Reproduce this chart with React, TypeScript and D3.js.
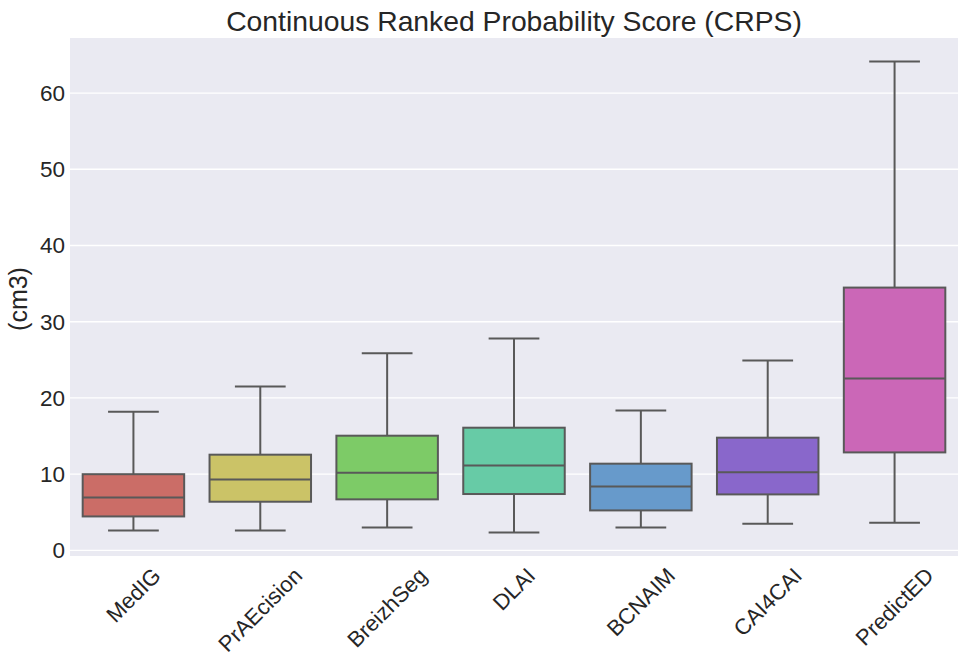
import React, { useEffect, useRef } from "react";
import * as d3 from "d3";

const categories = ["MedIG", "PrAEcision", "BreizhSeg", "DLAI", "BCNAIM", "CAI4CAI", "PredictED"];
const whiskerLow = [2.62, 2.62, 3.02, 2.36, 3.02, 3.5, 3.63];
const q1 = [4.46, 6.39, 6.7, 7.4, 5.25, 7.35, 12.86];
const median = [6.96, 9.32, 10.2, 11.15, 8.4, 10.24, 22.57];
const q3 = [10.0, 12.56, 15.05, 16.1, 11.38, 14.79, 34.48];
const whiskerHigh = [18.2, 21.5, 25.85, 27.8, 18.37, 24.93, 64.13];
const colors = ["#cb6d67", "#cbc367", "#7dcb67", "#67cba6", "#679acb", "#8967cb", "#cb67b7"];
const yTicks = [0, 10, 20, 30, 40, 50, 60];

const W = 969, H = 669;
const M = { left: 70, right: 958, top: 38, bottom: 556 };
const FONT = "'Liberation Sans', Arial, sans-serif";

export default function App() {
  const ref = useRef<SVGSVGElement>(null);
  useEffect(() => {
    const svg = d3.select(ref.current);
    svg.selectAll("*").remove();
    const x = d3.scaleBand().domain(categories).range([M.left, M.right]).paddingInner(0).paddingOuter(0);
    const y = d3.scaleLinear().domain([-0.73, 67.22]).range([M.bottom, M.top]);
    const bw = x.bandwidth() * 0.8;
    const line = "#595959";

    svg.append("rect").attr("x", M.left).attr("y", M.top).attr("width", M.right - M.left).attr("height", M.bottom - M.top).attr("fill", "#eaeaf2");
    svg.append("g").selectAll("line").data(yTicks).join("line")
      .attr("x1", M.left).attr("x2", M.right).attr("y1", (d) => y(d)).attr("y2", (d) => y(d))
      .attr("stroke", "white").attr("stroke-width", 1.3);

    svg.append("g").selectAll("text").data(yTicks).join("text")
      .attr("x", M.left - 5).attr("y", (d) => y(d)).attr("dy", "0.35em")
      .attr("text-anchor", "end").attr("font-family", FONT).attr("font-size", 22.5).attr("fill", "#262626")
      .text((d) => d);

    const g = svg.append("g");
    categories.forEach((c, i) => {
      const cx = x(c)! + x.bandwidth() / 2;
      const cap = bw / 2;
      g.append("line").attr("x1", cx).attr("x2", cx).attr("y1", y(whiskerLow[i])).attr("y2", y(q1[i])).attr("stroke", line).attr("stroke-width", 2);
      g.append("line").attr("x1", cx).attr("x2", cx).attr("y1", y(q3[i])).attr("y2", y(whiskerHigh[i])).attr("stroke", line).attr("stroke-width", 2);
      g.append("line").attr("x1", cx - cap / 2).attr("x2", cx + cap / 2).attr("y1", y(whiskerLow[i])).attr("y2", y(whiskerLow[i])).attr("stroke", line).attr("stroke-width", 2);
      g.append("line").attr("x1", cx - cap / 2).attr("x2", cx + cap / 2).attr("y1", y(whiskerHigh[i])).attr("y2", y(whiskerHigh[i])).attr("stroke", line).attr("stroke-width", 2);
      g.append("rect").attr("x", cx - bw / 2).attr("width", bw).attr("y", y(q3[i])).attr("height", y(q1[i]) - y(q3[i]))
        .attr("fill", colors[i]).attr("stroke", line).attr("stroke-width", 2);
      g.append("line").attr("x1", cx - bw / 2).attr("x2", cx + bw / 2).attr("y1", y(median[i])).attr("y2", y(median[i])).attr("stroke", line).attr("stroke-width", 2);
    });

    categories.forEach((c) => {
      const cx = x(c)! + x.bandwidth() / 2;
      const t = svg.append("text").attr("font-family", FONT).attr("font-size", 22).attr("fill", "#262626")
        .attr("text-anchor", "middle").attr("dominant-baseline", "central").text(c);
      const node = t.node() as SVGTextElement;
      const w = node.getComputedTextLength();
      const h = 22 * 1.0;
      const bb = (w + h) / Math.SQRT2;
      const cy = M.bottom + 8 + bb / 2;
      t.attr("transform", `translate(${cx},${cy}) rotate(-45)`);
    });

    svg.append("text").attr("x", (M.left + M.right) / 2).attr("y", 31).attr("text-anchor", "middle")
      .attr("font-family", FONT).attr("font-size", 28.3).attr("fill", "#262626").text("Continuous Ranked Probability Score (CRPS)");
    svg.append("text").attr("transform", `translate(27,${(M.top + M.bottom) / 2 + 2}) rotate(-90)`).attr("text-anchor", "middle")
      .attr("font-family", FONT).attr("font-size", 25).attr("fill", "#262626").text("(cm3)");
  }, []);
  return <svg ref={ref} width={W} height={H} style={{ position: "absolute", left: 0, top: 0, background: "white" }} />;
}
